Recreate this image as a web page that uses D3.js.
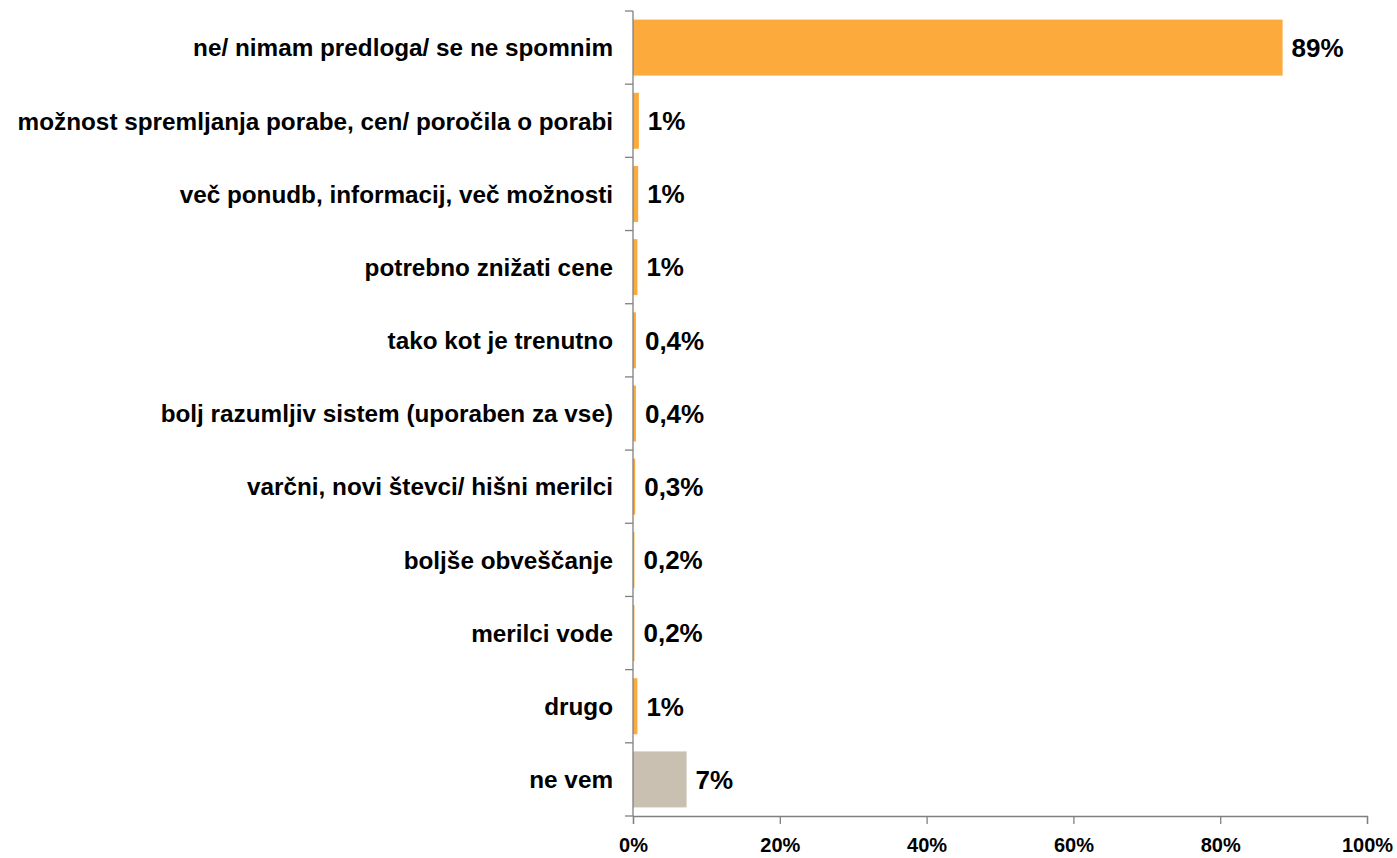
<!DOCTYPE html>
<html>
<head>
<meta charset="utf-8">
<script src="https://cdn.jsdelivr.net/npm/d3@7"></script>
<style>
  body { margin: 0; background: #fff; }
  text { font-family: "Liberation Sans", Arial, sans-serif; font-weight: bold; fill: #000; }
</style>
</head>
<body>
<div id="chart"></div>
<script>
// categories, values and labels
var categories = [
  "ne/ nimam predloga/ se ne spomnim",
  "možnost spremljanja porabe, cen/ poročila o porabi",
  "več ponudb, informacij, več možnosti",
  "potrebno znižati cene",
  "tako kot je trenutno",
  "bolj razumljiv sistem (uporaben za vse)",
  "varčni, novi števci/ hišni merilci",
  "boljše obveščanje",
  "merilci vode",
  "drugo",
  "ne vem"
]
var values = [88.5, 0.8, 0.7, 0.6, 0.4, 0.4, 0.3, 0.2, 0.2, 0.6, 7.3]
var valueLabels = ["89%", "1%", "1%", "1%", "0,4%", "0,4%", "0,3%", "0,2%", "0,2%", "1%", "7%"]
var barColors = ["#FBAA3B", "#FBAA3B", "#FBAA3B", "#FBAA3B", "#FBAA3B", "#FBAA3B", "#FBAA3B", "#FBAA3B", "#FBAA3B", "#FBAA3B", "#C9C0B1"]
var xTicks = [0, 20, 40, 60, 80, 100]

var width = 1397,
    height = 858
var margin = {top: 11, right: 30, bottom: 42, left: 633}

var svg = d3.select("#chart")
  .append("svg")
  .attr("width", width)
  .attr("height", height)

var x = d3.scaleLinear()
  .domain([0, 100])
  .range([margin.left, 1367])

var y = d3.scaleBand()
  .domain(categories)
  .range([margin.top, height - margin.bottom])
  .paddingInner(0.235)
  .paddingOuter(0.1175)

// bars
svg.selectAll("rect.bar")
  .data(categories)
  .enter()
  .append("rect")
  .attr("class", "bar")
  .attr("x", x(0))
  .attr("y", function(d) { return y(d) })
  .attr("width", function(d, i) { return x(values[i]) - x(0) })
  .attr("height", y.bandwidth())
  .attr("fill", function(d, i) { return barColors[i] })

// value labels
svg.selectAll("text.val")
  .data(categories)
  .enter()
  .append("text")
  .attr("class", "val")
  .attr("x", function(d, i) { return x(values[i]) + 9 })
  .attr("y", function(d) { return y(d) + y.bandwidth() / 2 })
  .attr("dy", "0.36em")
  .style("font-size", "26px")
  .text(function(d, i) { return valueLabels[i] })

// y axis: line with ticks between the categories
var bandEdges = d3.range(categories.length + 1).map(function(i) {
  return margin.top + i * y.step()
})
var yAxis = svg.append("g")
yAxis.append("line")
  .attr("x1", x(0)).attr("x2", x(0))
  .attr("y1", margin.top).attr("y2", height - margin.bottom)
  .attr("stroke", "#808080")
  .attr("stroke-width", 1.3)
yAxis.selectAll("line.tick")
  .data(bandEdges)
  .enter()
  .append("line")
  .attr("class", "tick")
  .attr("x1", x(0) - 8).attr("x2", x(0))
  .attr("y1", function(d) { return d }).attr("y2", function(d) { return d })
  .attr("stroke", "#808080")
  .attr("stroke-width", 1.3)

yAxis.selectAll("text.cat")
  .data(categories)
  .enter()
  .append("text")
  .attr("class", "cat")
  .attr("x", 613)
  .attr("y", function(d) { return y(d) + y.bandwidth() / 2 })
  .attr("dy", "0.36em")
  .attr("text-anchor", "end")
  .style("font-size", "24.3px")
  .text(function(d) { return d })

// x axis
var xAxis = svg.append("g")
  .attr("transform", "translate(0," + (height - margin.bottom) + ")")
  .call(d3.axisBottom(x)
    .tickValues(xTicks)
    .tickSize(8)
    .tickPadding(14)
    .tickFormat(function(d) { return d + "%" }))

xAxis.select(".domain").attr("stroke", "#808080").attr("stroke-width", 1.3)
xAxis.selectAll(".tick line").attr("stroke", "#808080").attr("stroke-width", 1.3)
xAxis.selectAll(".tick text")
  .style("font-size", "20px")
  .style("font-family", "Liberation Sans, Arial, sans-serif")
  .style("font-weight", "bold")
  .attr("fill", "#000")
</script>
</body>
</html>
